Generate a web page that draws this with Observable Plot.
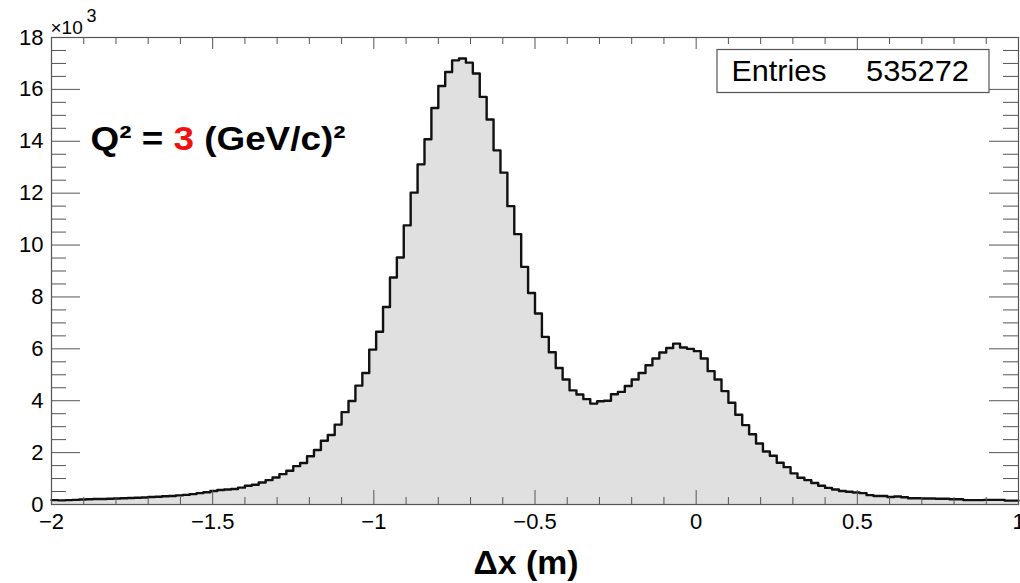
<!DOCTYPE html>
<html>
<head>
<meta charset="utf-8">
<script src="https://cdn.jsdelivr.net/npm/d3@7"></script>
<script src="https://cdn.jsdelivr.net/npm/@observablehq/plot@0.6"></script>
<style>
  html, body { margin: 0; padding: 0; background: #fff; }
  #chart { position: relative; width: 1020px; height: 583px; overflow: hidden; }
</style>
</head>
<body>
<div id="chart"></div>
<script>
// ---- data ----
const histRange = [-2, 1];           // Δx axis range (m), 140 equal bins
const counts = [
  170,160,170,180,190,200,210,210,220,230,240,250,260,270,290,300,320,330,350,370,
  400,440,470,520,560,580,600,650,720,760,850,940,1040,1170,1300,1480,
  1600,1860,2100,2460,2680,3080,3560,3990,4580,5070,5970,6660,7610,8750,9520,10760,
  12020,13110,14080,15280,16130,16670,17120,17190,17030,16610,15710,14840,13650,12790,
  11500,10420,9160,8150,7360,6460,5870,
  5260,4820,4400,4240,4060,3890,3980,4000,4250,4340,4570,4820,5070,5370,5630,5860,
  6030,6200,6050,6000,5910,5630,5140,4820,4370,3920,3460,3060,2710,2350,2040,1880,
  1610,1440,1200,
  1030,940,830,720,640,580,520,490,460,440,360,330,330,290,310,280,240,240,230,230,
  220,220,200,200,170,170,170,180,180,180,150,150
];
const xMajorTicks = [-2, -1.5, -1, -0.5, 0, 0.5, 1];
const xMinorTicks = [-1.9,-1.8,-1.7,-1.6,-1.4,-1.3,-1.2,-1.1,-0.9,-0.8,-0.7,-0.6,
                     -0.4,-0.3,-0.2,-0.1,0.1,0.2,0.3,0.4,0.6,0.7,0.8,0.9];
const yMajorTicks = [0, 2000, 4000, 6000, 8000, 10000, 12000, 14000, 16000, 18000];
const yMinorTicks = [500,1000,1500,2500,3000,3500,4500,5000,5500,6500,7000,7500,
                     8500,9000,9500,10500,11000,11500,12500,13000,13500,14500,15000,15500,
                     16500,17000,17500];
const yDomain = [0, 18000];
const entries = 535272;
const q2Value = 3;
const xTitle = "Δx (m)";

// ---- derived tables ----
const binW = (histRange[1] - histRange[0]) / counts.length;
const steps = counts.map((c, i) => ({x: histRange[0] + i * binW, y: c}))
  .concat([{x: histRange[1], y: counts[counts.length - 1]}]);

// ---- layout ----
const W = 1020, H = 583, mL = 51, mR = 2, mT = 37, mB = 79;
const innerW = W - mL - mR, innerH = H - mT - mB;
const axisColor = "#555";
const fmtX = d => (d < 0 ? "\u2212" : "") + Math.abs(d);
const txt = (s, o) => Plot.text([s], {lineAnchor: "middle", ...o});

const chart = Plot.plot({
  width: W, height: H,
  marginLeft: mL, marginRight: mR, marginTop: mT, marginBottom: mB,
  style: {fontFamily: "'Liberation Sans', Arial, Helvetica, sans-serif", fontSize: "22px", background: "white", overflow: "visible", color: "black"},
  x: {domain: histRange, label: null},
  y: {domain: yDomain, label: null},
  marks: [
    Plot.areaY(steps, {x: "x", y: "y", curve: "step-after", fill: "#e0e0e0"}),
    Plot.line(steps, {x: "x", y: "y", curve: "step-after", stroke: "#111", strokeWidth: 2.4}),
    Plot.frame({stroke: axisColor, strokeWidth: 1.2}),
    // bottom ticks
    Plot.ruleX(xMajorTicks, {x: d => d, insetTop: innerH - 14, stroke: axisColor}),
    Plot.ruleX(xMinorTicks, {x: d => d, insetTop: innerH - 7, stroke: axisColor}),
    // top ticks
    Plot.ruleX(xMajorTicks, {x: d => d, insetBottom: innerH - 12, stroke: axisColor}),
    Plot.ruleX(xMinorTicks, {x: d => d, insetBottom: innerH - 7, stroke: axisColor}),
    // left ticks
    Plot.ruleY(yMajorTicks, {y: d => d, insetRight: innerW - 29, stroke: axisColor}),
    Plot.ruleY(yMinorTicks, {y: d => d, insetRight: innerW - 15, stroke: axisColor}),
    // right ticks
    Plot.ruleY(yMajorTicks, {y: d => d, insetLeft: innerW - 29, stroke: axisColor}),
    Plot.ruleY(yMinorTicks, {y: d => d, insetLeft: innerW - 15, stroke: axisColor}),
    Plot.axisX({ticks: xMajorTicks, tickSize: 0, tickPadding: 9, tickFormat: fmtX, label: null, fontSize: 22}),
    Plot.axisY({ticks: yMajorTicks, tickSize: 0, tickPadding: 8, tickFormat: d => String(d / 1000), label: null, fontSize: 22}),
    // exponent
    txt("\u00d710", {frameAnchor: "top-left", dx: -1, dy: 27 - mT, textAnchor: "start", fontSize: 19}),
    txt("3", {frameAnchor: "top-left", dx: 35, dy: 16 - mT, textAnchor: "start", fontSize: 18}),
    // stats box
    Plot.frame({insetLeft: 716.5 - mL, insetRight: (W - mR) - 988.5, insetTop: 49 - mT, insetBottom: (H - mB) - 92, fill: "white", stroke: axisColor, strokeWidth: 1.2}),
    txt("Entries", {frameAnchor: "top-left", dx: 731 - mL, dy: 70.8 - mT, textAnchor: "start", fontSize: 29}),
    txt(String(entries), {frameAnchor: "top-left", dx: 968.5 - mL, dy: 70.8 - mT, textAnchor: "end", fontSize: 29}),
    // Q² annotation
    txt(`Q\u00b2 = ${q2Value} (GeV/c)\u00b2`, {frameAnchor: "top-left", dx: 90 - mL, dy: 139 - mT, textAnchor: "start", fontSize: 33, fontWeight: "bold"}),
    // x title
    txt(xTitle, {frameAnchor: "bottom", dx: 525.5 - (mL + innerW / 2), dy: 562.5 - (H - mB), fontSize: 33, fontWeight: "bold"})
  ]
});

document.getElementById("chart").appendChild(chart);

// post-process text: colour the Q² value red and fit widths to the reference
const svg = d3.select(chart);
function fit(sel, len) { sel.attr("textLength", len).attr("lengthAdjust", "spacingAndGlyphs"); }
svg.selectAll("text").each(function () {
  const t = d3.select(this);
  const s = this.textContent;
  if (s === `Q\u00b2 = ${q2Value} (GeV/c)\u00b2`) {
    t.text(null);
    t.append("tspan").text("Q\u00b2 = ");
    t.append("tspan").attr("fill", "#f01010").text(String(q2Value));
    t.append("tspan").text(" (GeV/c)\u00b2");
    fit(t, 255);
  } else if (s === xTitle) {
    fit(t, 105);
  } else if (s === "Entries") {
    fit(t, 95);
  } else if (s === String(entries)) {
    fit(t, 103);
  }
});
</script>
</body>
</html>
